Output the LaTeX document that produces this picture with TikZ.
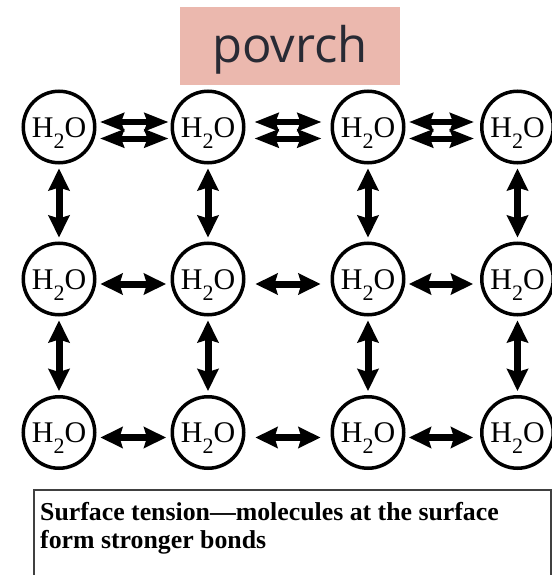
\documentclass[tikz,border=0pt]{standalone}
\usepackage{fontspec}
\setmainfont{Liberation Serif}
\newfontfamily\titlefont{Open Sans}
\usetikzlibrary{arrows.meta}
\definecolor{titlebg}{RGB}{235,184,174}
\definecolor{titlefg}{RGB}{40,42,52}
\newcommand\hho{H\raisebox{-11pt}{\fontsize{22}{22}\selectfont 2}O}
\begin{document}
\begin{tikzpicture}[x=1pt,y=-1pt,
  mol/.style={circle, draw, line width=3.5pt, minimum size=71.5pt, inner sep=0pt,
    text height=20pt, text depth=0pt, font=\fontsize{30}{30}\selectfont},
  bond/.style={line width=7pt,
    {Stealth[length=22pt,width=21pt,inset=3pt]}-{Stealth[length=22pt,width=21pt,inset=3pt]}},
  sbond/.style={line width=6pt,
    {Stealth[length=24pt,width=18pt,inset=3pt]}-{Stealth[length=24pt,width=18pt,inset=3pt]}},
  titlebox/.style={fill=titlebg, text=titlefg, minimum width=220pt, minimum height=78pt,
    inner sep=0pt, text height=34pt, text depth=0pt,
    font=\titlefont\fontsize{49}{49}\selectfont},
  capbox/.style={draw=black!75, line width=2pt, minimum width=517pt, minimum height=110pt,
    inner sep=0pt, anchor=north west},
  captext/.style={font=\bfseries\fontsize{25.8}{28}\selectfont, inner sep=0pt, anchor=base west}
]
\useasboundingbox (0,0) rectangle (551,575);

\node[titlebox] (title) at (290,46) {povrch};

% molecules
\node[mol] (a1) at (59,127) {\hho};
\node[mol] (a2) at (208,127) {\hho};
\node[mol] (a3) at (368,127) {\hho};
\node[mol] (a4) at (517.5,127) {\hho};
\node[mol] (b1) at (59,279) {\hho};
\node[mol] (b2) at (208,279) {\hho};
\node[mol] (b3) at (368,279) {\hho};
\node[mol] (b4) at (517.5,279) {\hho};
\node[mol] (c1) at (59,432.5) {\hho};
\node[mol] (c2) at (208,432.5) {\hho};
\node[mol] (c3) at (368,432.5) {\hho};
\node[mol] (c4) at (517.5,432.5) {\hho};

% surface: double bonds
\foreach \s in {5pt,-11.5pt}{
  \draw[sbond, shorten <=3.5pt, shorten >=2pt] ([yshift=\s]a1.east) -- ([yshift=\s]a2.west);
  \draw[sbond, shorten <=9pt, shorten >=9pt] ([yshift=\s]a2.east) -- ([yshift=\s]a3.west);
  \draw[sbond, shorten <=3.5pt, shorten >=6pt] ([yshift=\s]a3.east) -- ([yshift=\s]a4.west);
}

% inner horizontal bonds
\foreach \r in {b,c}{
  \draw[bond, shorten <=4pt, shorten >=4.5pt] ([yshift=-5pt]\r1.east) -- ([yshift=-5pt]\r2.west);
  \draw[bond, shorten <=10pt, shorten >=10pt] ([yshift=-5pt]\r2.east) -- ([yshift=-5pt]\r3.west);
  \draw[bond, shorten <=3.5pt, shorten >=7pt] ([yshift=-5pt]\r3.east) -- ([yshift=-5pt]\r4.west);
}

% vertical bonds
\foreach \k in {1,2,3,4}{
  \draw[bond, shorten <=4pt, shorten >=4pt] (a\k) -- (b\k);
  \draw[bond, shorten <=4pt, shorten >=4pt] (b\k) -- (c\k);
}

% caption
\node[capbox] (cap) at (33,489) {};
\node[captext] (l1) at (40,520) {Surface tension—molecules at the surface};
\node[captext] (l2) at (40,548) {form stronger bonds};
\end{tikzpicture}
\end{document}
